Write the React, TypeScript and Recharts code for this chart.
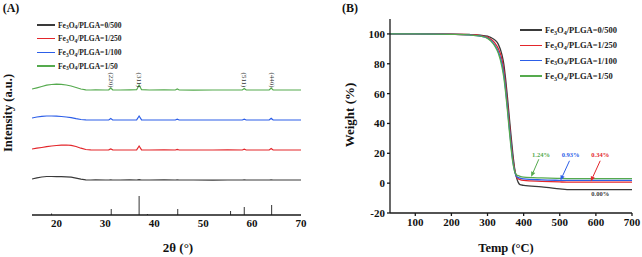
import { LineChart, Line, XAxis, YAxis, ReferenceLine, ReferenceDot } from "recharts";

// ---- (A) XRD patterns ----
const twoTheta = [15, 16, 17, 18, 19, 20, 21, 22, 23, 24, 25, 26, 27, 28, 30, 30.7, 31.1, 31.5, 33, 35, 36.4, 36.9, 37.4, 39, 42, 44.3, 44.7, 45.1, 48, 52, 55, 58.0, 58.4, 58.8, 61, 63.5, 63.9, 64.3, 67, 70];
const xrd0500 = [36, 37.2, 38, 38.5, 38.5, 38.4, 38.3, 38.2, 37.8, 36.8, 35.8, 35.2, 35, 35.1, 35, 35, 35.2, 35, 35, 35.1, 35, 35.4, 35, 35, 35.1, 35, 35.2, 35, 35, 34.9, 35, 35, 35.1, 35, 35, 35, 35.2, 35, 35, 35];
const xrd1250 = [66, 66.8, 67.5, 68.3, 69, 69.5, 69.8, 70, 69.6, 68.5, 66.8, 65.5, 65.1, 65, 65, 65.1, 66, 65.1, 65, 65, 65.2, 69, 65.2, 65, 65.1, 65, 65.6, 65, 65, 65, 65.1, 65, 65.8, 65, 65, 65, 66.5, 65, 65, 65];
const xrd1100 = [97, 98, 98.7, 99, 99, 98.8, 98.5, 98, 97.3, 96.3, 95.5, 95.1, 95, 95, 95, 95.1, 96.5, 95.1, 95, 95, 95.2, 99, 95.2, 95, 95, 95, 95.8, 95, 95, 95, 95, 95, 95.9, 95, 95, 95, 96.8, 95, 95, 95];
const xrd150 = [126, 127.2, 128.5, 129.8, 130.5, 130.8, 130.6, 130, 129, 127.5, 126, 125.2, 125, 125.1, 125, 125.2, 127, 125.2, 125, 125.1, 125.3, 130, 125.3, 125, 125.1, 125, 126, 125, 124.9, 125, 125, 125, 126.5, 125, 125, 125, 127, 125, 125, 125];
const stickPos = [19.0, 31.2, 36.9, 38.6, 44.8, 55.6, 58.4, 64.0];
const stickHeight = [1.5, 6, 19, 1, 6, 4, 8, 10];
const millerLabels = ["(220)", "(311)", "(511)", "(440)"];
const millerPos = [31.2, 36.9, 58.4, 64.0];
const xrdTicks = [20, 30, 40, 50, 60, 70];

// ---- (B) TGA curves ----
const temps = [30, 100, 200, 250, 280, 300, 310, 320, 330, 340, 345, 350, 355, 360, 365, 370, 375, 380, 385, 390, 400, 450, 500, 520, 550, 600, 700];
const tga0500 = [100, 100, 99.8, 99.6, 99.2, 98.5, 97.5, 96, 93, 86, 80, 70, 58, 45, 32, 20, 10, 4, 0.5, -1, -1.5, -2.5, -3.8, -4.3, -4.4, -4.4, -4.4];
const tga1250 = [100, 100, 99.8, 99.5, 98.9, 97.8, 96.3, 94, 90, 83, 76, 66, 54, 41, 28, 17, 9, 4.5, 3, 2.3, 1.8, 1.2, 0.8, 0.7, 0.7, 0.7, 0.7];
const tga1100 = [100, 100, 99.7, 99.3, 98.6, 97.3, 95.5, 92.5, 88, 80, 73, 63, 51, 38, 26, 15, 8, 4.5, 3.8, 3.3, 2.8, 2.2, 1.9, 1.8, 1.8, 1.8, 1.8];
const tga150 = [100, 100, 99.7, 99.3, 98.5, 97, 95, 92, 87, 78, 71, 61, 49, 36, 24, 14, 8, 5.5, 5, 4.5, 4, 3.5, 3.2, 3.1, 3.1, 3.1, 3.1];
const tgaXTicks = [100, 200, 300, 400, 500, 600, 700];
const tgaYTicks = [-20, 0, 20, 40, 60, 80, 100];
const residueText = ["0.00%", "0.34%", "0.93%", "1.24%"];
const residueT = [612, 612, 530, 448];
const residueW = [-6.6, 19.5, 19.5, 19.5];
// arrows: red, blue, green (tail -> head)
const arrowSeries = [1, 2, 3];
const arrowFromT = [612, 527, 442];
const arrowFromW = [15, 15, 16];
const arrowToT = [586, 502, 421];
const arrowToW = [1.2, 1.8, 4.3];

const ratios = ["0/500", "1/250", "1/100", "1/50"];
const colors = ["#3a3a3a", "#e3262b", "#2c5ee8", "#55aa4e"];
const keys = ["s0", "s1", "s2", "s3"];

const serif = "'Liberation Serif', 'Times New Roman', serif";
const axisStroke = { stroke: "#1a1a1a", strokeWidth: 1.3 };
const tickStyle = { fontSize: 11, fontWeight: 700, fill: "#111", fontFamily: serif };

const xrdData = twoTheta.map((t, i) => ({ t, s0: xrd0500[i], s1: xrd1250[i], s2: xrd1100[i], s3: xrd150[i] }));
const tgaData = temps.map((t, i) => ({ t, s0: tga0500[i], s1: tga1250[i], s2: tga1100[i], s3: tga150[i] }));

function Label({ name }: { name: string }) {
  const sub = { fontSize: "0.72em", position: "relative" as const, top: "0.3em" };
  return (
    <span>
      Fe<span style={sub}>3</span>O<span style={sub}>4</span>/PLGA={name}
    </span>
  );
}

function LegendBox({ left, top, gap, lineW, fontSize }: { left: number; top: number; gap: number; lineW: number; fontSize: number }) {
  return (
    <div style={{ position: "absolute", left, top, fontFamily: serif, fontWeight: 700, fontSize, color: "#222" }}>
      {ratios.map((r, i) => (
        <div key={r} style={{ position: "absolute", top: i * gap, left: 0, display: "flex", alignItems: "center", whiteSpace: "nowrap", height: 0 }}>
          <div style={{ width: lineW, height: 1.5, background: colors[i], marginRight: 3 }} />
          <Label name={r} />
        </div>
      ))}
    </div>
  );
}

function Arrow(props: any) {
  const { x1, y1, x2, y2, stroke } = props;
  const a = Math.atan2(y2 - y1, x2 - x1);
  const len = 5;
  const w = 2.2;
  const bx = x2 - len * Math.cos(a);
  const by = y2 - len * Math.sin(a);
  const px = -Math.sin(a) * w;
  const py = Math.cos(a) * w;
  return (
    <g>
      <line x1={x1} y1={y1} x2={bx} y2={by} stroke={stroke} strokeWidth={1} />
      <polygon points={`${x2},${y2} ${bx + px},${by + py} ${bx - px},${by - py}`} fill={stroke} />
    </g>
  );
}

function Centered({ x, y, rotate, style, children }: any) {
  return (
    <div
      style={{
        position: "absolute",
        left: x,
        top: y,
        transform: `translate(-50%, -50%)${rotate ? ` rotate(${rotate}deg)` : ""}`,
        whiteSpace: "nowrap",
        fontFamily: serif,
        fontWeight: 700,
        color: "#111",
        lineHeight: 1,
        ...style,
      }}
    >
      {children}
    </div>
  );
}

export default function App() {
  return (
    <div style={{ position: "absolute", left: 0, top: 0, width: 642, height: 257, background: "#fff", overflow: "hidden" }}>
      <div style={{ position: "absolute", left: 0, top: 0 }}>
        <LineChart width={320} height={257} data={xrdData} margin={{ top: 15, right: 19, bottom: 12, left: 32 }}>
          <XAxis dataKey="t" type="number" domain={[15, 70]} ticks={xrdTicks} tick={tickStyle} tickLine={false} tickSize={2} axisLine={axisStroke} height={30} allowDataOverflow />
          <XAxis xAxisId="top" orientation="top" dataKey="t" type="number" domain={[15, 70]} tick={false} tickLine={false} height={0} axisLine={axisStroke} />
          <YAxis type="number" domain={[0, 200]} tick={false} tickLine={false} width={0} axisLine={axisStroke} allowDataOverflow />
          <YAxis yAxisId="right" orientation="right" type="number" domain={[0, 200]} tick={false} tickLine={false} width={0} axisLine={axisStroke} />
          {keys.map((k, i) => (
            <Line key={k} dataKey={k} type="linear" stroke={colors[i]} strokeWidth={1.2} dot={false} isAnimationActive={false} />
          ))}
          {stickPos.map((p, i) => (
            <ReferenceLine key={`st${i}`} segment={[{ x: p, y: 0 }, { x: p, y: stickHeight[i] }]} stroke="#333" strokeWidth={1} ifOverflow="visible" />
          ))}
          {millerPos.map((p, i) => (
            <ReferenceDot
              key={`m${i}`}
              x={p}
              y={135}
              r={0}
              ifOverflow="visible"
              shape={(pr: any) => (
                <text transform={`translate(${pr.cx},${pr.cy}) rotate(90)`} textAnchor="middle" dominantBaseline="central" fontSize={7} fontFamily={serif} fill="#333">
                  {millerLabels[i]}
                </text>
              )}
            />
          ))}
        </LineChart>
      </div>

      <div style={{ position: "absolute", left: 320, top: 0 }}>
        <LineChart width={322} height={257} data={tgaData} margin={{ top: 19, right: 10, bottom: 14, left: 30 }}>
          <XAxis dataKey="t" type="number" domain={[30, 700]} ticks={tgaXTicks} tick={tickStyle} tickSize={3} tickLine={axisStroke} axisLine={axisStroke} height={30} allowDataOverflow />
          <XAxis xAxisId="top" orientation="top" dataKey="t" type="number" domain={[30, 700]} tick={false} tickLine={false} height={0} axisLine={axisStroke} />
          <YAxis type="number" domain={[-20, 110]} ticks={tgaYTicks} tick={tickStyle} tickSize={3} tickLine={axisStroke} axisLine={axisStroke} width={40} allowDataOverflow />
          <YAxis yAxisId="right" orientation="right" type="number" domain={[-20, 110]} tick={false} tickLine={false} width={0} axisLine={axisStroke} />
          {keys.map((k, i) => (
            <Line key={k} dataKey={k} type="monotone" stroke={colors[i]} strokeWidth={1.3} dot={false} isAnimationActive={false} />
          ))}
          {arrowSeries.map((s, i) => (
            <ReferenceLine
              key={`ar${i}`}
              segment={[{ x: arrowFromT[i], y: arrowFromW[i] }, { x: arrowToT[i], y: arrowToW[i] }]}
              stroke={colors[s]}
              ifOverflow="visible"
              shape={(pr: any) => <Arrow {...pr} stroke={colors[s]} />}
            />
          ))}
          {residueText.map((txt, i) => (
            <ReferenceDot
              key={`r${i}`}
              x={residueT[i]}
              y={residueW[i]}
              r={0}
              ifOverflow="visible"
              shape={(pr: any) => (
                <text x={pr.cx} y={pr.cy} textAnchor="middle" dominantBaseline="central" fontSize={6.5} fontWeight={700} fontFamily={serif} fill={colors[i]}>
                  {txt}
                </text>
              )}
            />
          ))}
        </LineChart>
      </div>

      <LegendBox left={37} top={25} gap={13.7} lineW={18} fontSize={7.5} />
      <LegendBox left={520} top={30} gap={15.3} lineW={22} fontSize={8.5} />

      <Centered x={11} y={8} style={{ fontSize: 12 }}>(A)</Centered>
      <Centered x={350} y={8} style={{ fontSize: 12 }}>(B)</Centered>
      <Centered x={8} y={113} rotate={-90} style={{ fontSize: 12.5 }}>Intensity (a.u.)</Centered>
      <Centered x={178} y={247} style={{ fontSize: 13 }}>2θ (°)</Centered>
      <Centered x={349} y={115} rotate={-90} style={{ fontSize: 13 }}>Weight (%)</Centered>
      <Centered x={506} y={248} style={{ fontSize: 12.5 }}>Temp (°C)</Centered>
    </div>
  );
}
